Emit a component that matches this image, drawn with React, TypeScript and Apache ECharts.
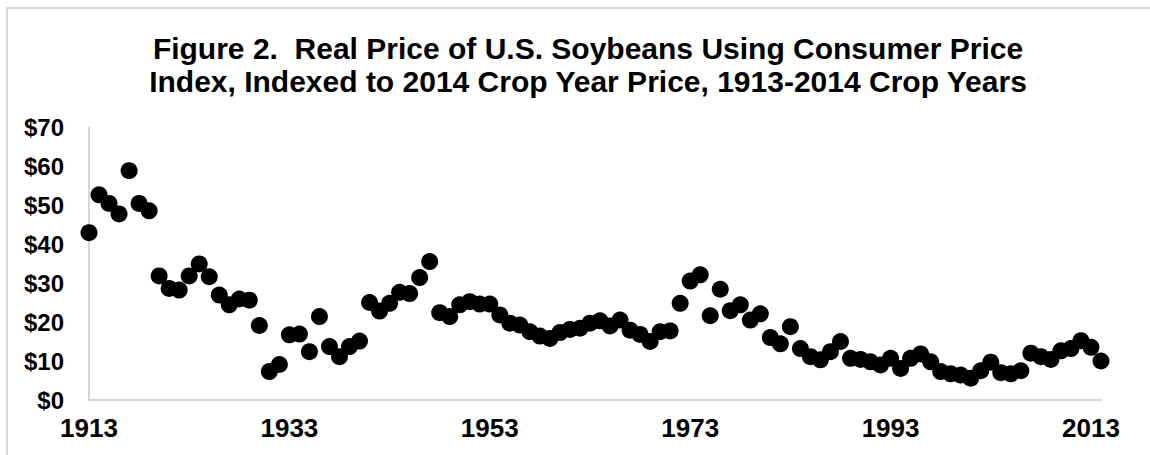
import React, { useEffect, useRef } from "react";
import * as echarts from "echarts";

const titleLines = [
  "Figure 2.  Real Price of U.S. Soybeans Using Consumer Price",
  "Index, Indexed to 2014 Crop Year Price, 1913-2014 Crop Years",
];

const firstYear = 1913;
const lastYear = 2014;
const xTickStep = 20;
const yTicks = [0, 10, 20, 30, 40, 50, 60, 70];

// Real price ($/bu, 2014 dollars), crop years 1913..2014
const prices = [
  42.9, 52.6, 50.4, 47.7, 58.8, 50.4, 48.5, 31.8, 28.6, 28.2,
  31.8, 34.9, 31.6, 26.9, 24.4, 25.9, 25.6, 19.1, 7.3, 9.1,
  16.7, 16.9, 12.4, 21.4, 13.7, 11.1, 13.7, 15.1, 25.0, 22.8,
  24.8, 27.6, 27.3, 31.4, 35.5, 22.4, 21.4, 24.4, 25.2, 24.6,
  24.6, 21.8, 19.7, 19.2, 17.5, 16.4, 15.8, 17.3, 18.1, 18.4,
  19.7, 20.3, 19.0, 20.5, 17.9, 16.8, 15.0, 17.5, 17.7, 24.8,
  30.5, 32.1, 21.6, 28.4, 22.9, 24.4, 20.5, 22.1, 16.0, 14.4,
  18.8, 13.2, 11.1, 10.3, 12.4, 15.0, 10.7, 10.4, 9.8, 9.0,
  10.7, 8.1, 10.7, 11.8, 9.8, 7.3, 6.7, 6.4, 5.6, 7.5,
  9.7, 7.0, 6.7, 7.5, 12.0, 11.1, 10.4, 12.6, 13.2, 15.2,
  13.5, 10.0,
];

const years = prices.map((_, i) => firstYear + i);

export default function App() {
  const ref = useRef<HTMLDivElement>(null);

  useEffect(() => {
    if (!ref.current) return;
    const chart = echarts.init(ref.current, null, { renderer: "svg" });
    const font = "Arial, 'Liberation Sans', Helvetica, sans-serif";
    chart.setOption({
      animation: false,
      backgroundColor: "#ffffff",
      title: {
        text: titleLines.join("\n"),
        left: 583,
        top: 27,
        textAlign: "center",
        textStyle: {
          fontFamily: font,
          fontWeight: "bold",
          fontSize: 30,
          lineHeight: 33,
          color: "#000000",
        },
      },
      graphic: [
        {
          type: "rect",
          shape: { x: 7, y: 8, width: 1200, height: 500 },
          style: { fill: "none", stroke: "#d9d9d9", lineWidth: 2 },
          silent: true,
        },
      ],
      grid: { left: 89, right: 49, top: 127, bottom: 55 },
      xAxis: {
        type: "value",
        min: firstYear,
        max: lastYear,
        interval: xTickStep,
        axisLine: { show: true, lineStyle: { color: "#c8c8c8", width: 1.5 } },
        axisTick: { show: false },
        splitLine: { show: false },
        axisLabel: {
          fontFamily: font,
          fontWeight: "bold",
          fontSize: 26,
          color: "#000000",
          margin: 15,
          formatter: (v: number) =>
            (v - firstYear) % xTickStep === 0 ? String(v) : "",
        },
      },
      yAxis: {
        type: "value",
        min: yTicks[0],
        max: yTicks[yTicks.length - 1],
        interval: yTicks[1] - yTicks[0],
        axisLine: { show: true, lineStyle: { color: "#c8c8c8", width: 1.5 } },
        axisTick: { show: false },
        splitLine: { show: false },
        axisLabel: {
          fontFamily: font,
          fontWeight: "bold",
          fontSize: 24,
          color: "#000000",
          margin: 25,
          formatter: (v: number) => "$" + v,
        },
      },
      series: [
        {
          type: "scatter",
          data: years.map((y, i) => [y, prices[i]]),
          symbol: "circle",
          symbolSize: 17,
          itemStyle: { color: "#000000", opacity: 1 },
          clip: false,
        },
      ],
    });
    return () => chart.dispose();
  }, []);

  return (
    <div
      ref={ref}
      style={{ position: "absolute", left: 0, top: 0, width: 1150, height: 455 }}
    />
  );
}
